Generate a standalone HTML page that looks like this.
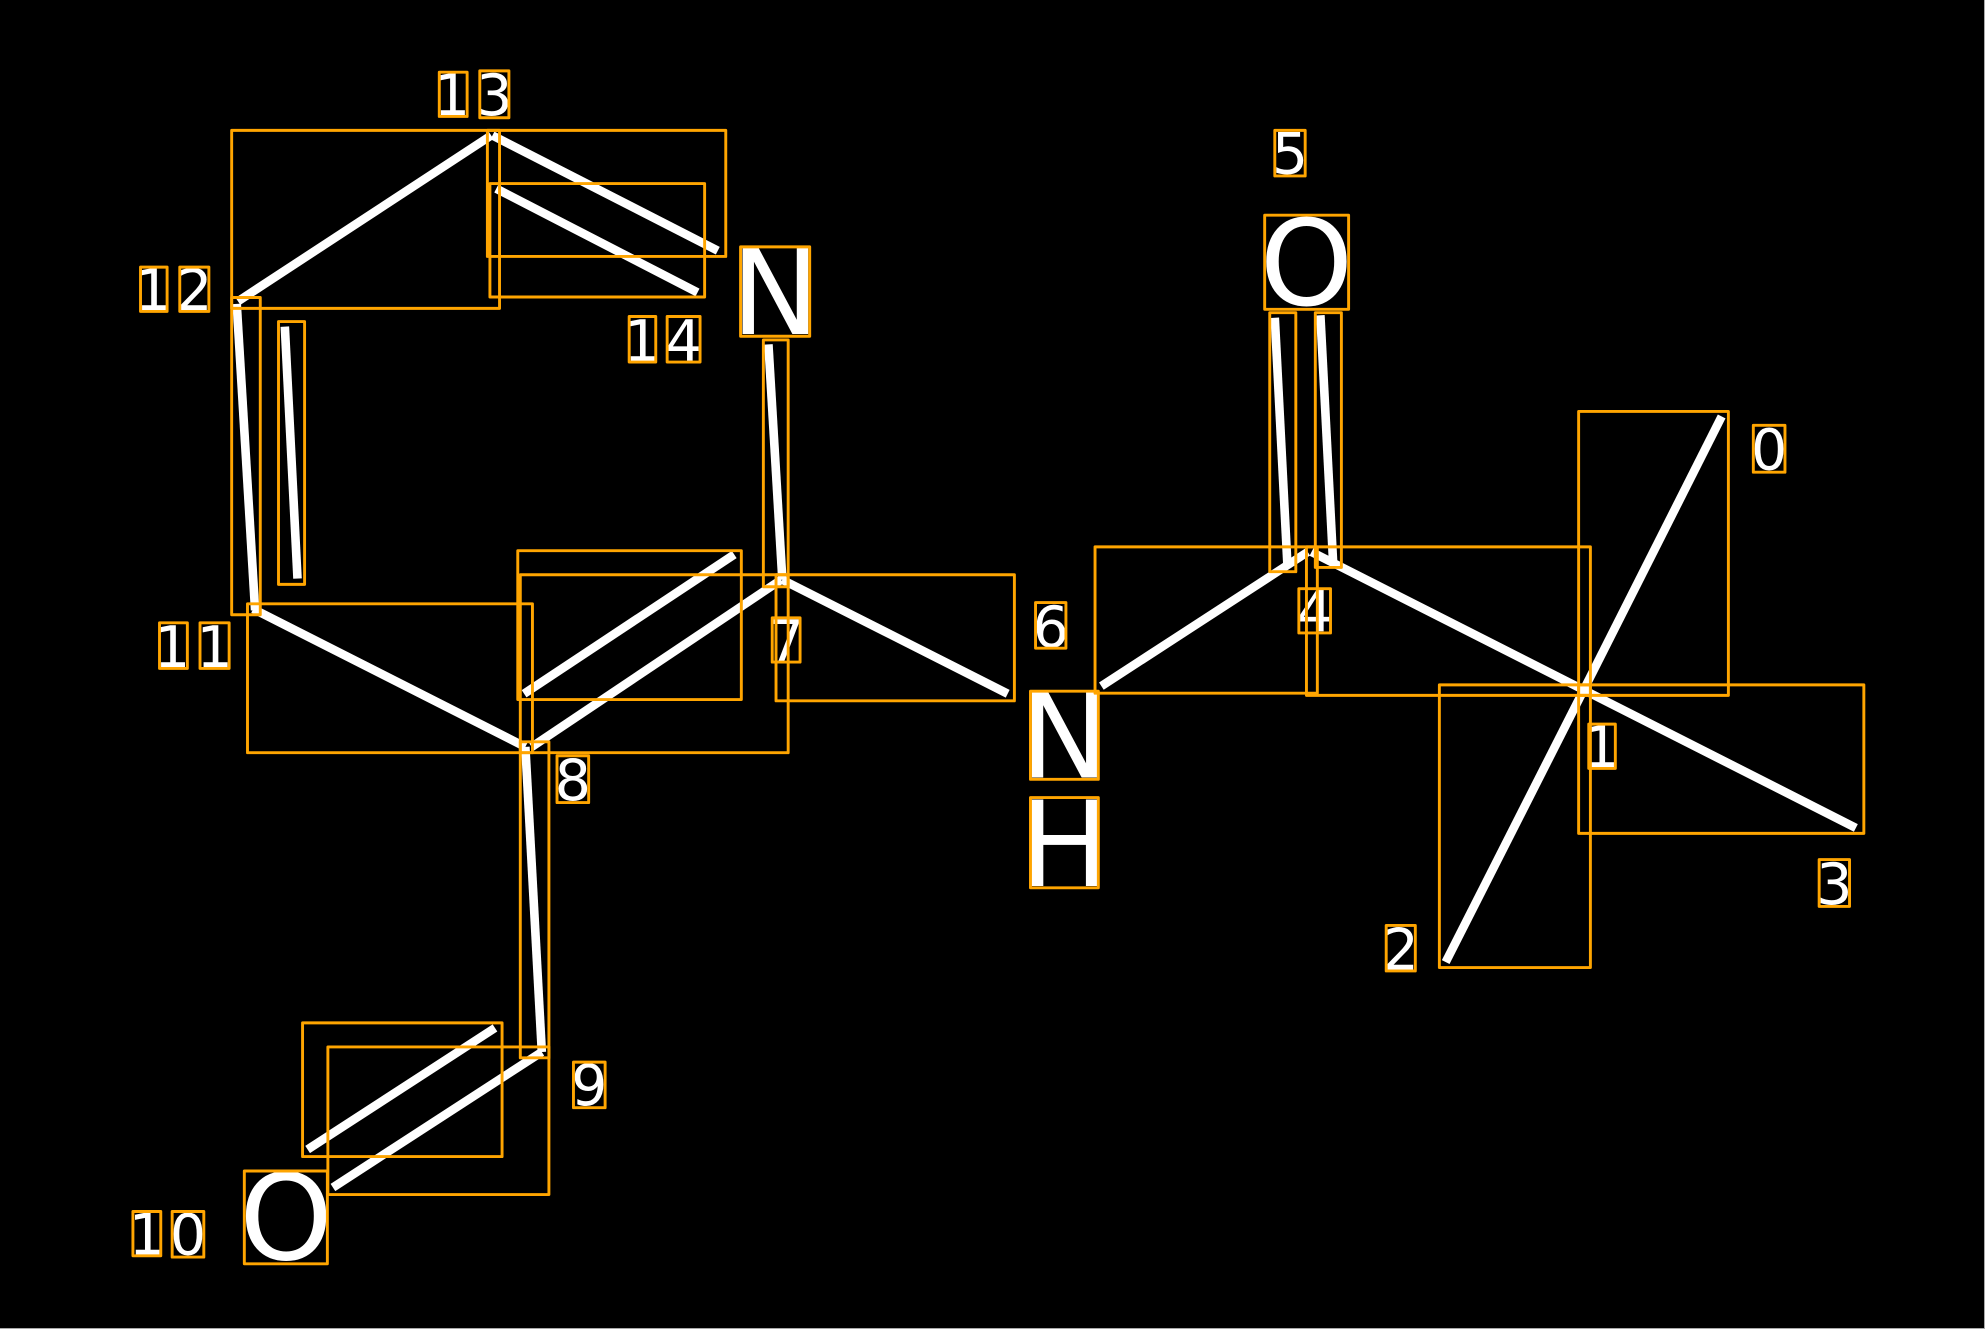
<!DOCTYPE html>
<html><head><meta charset="utf-8"><style>
html,body{margin:0;padding:0;background:#000;width:1985px;height:1329px;overflow:hidden}
svg{display:block}
text{font-family:"DejaVu Sans","Liberation Sans",sans-serif;fill:#fff;text-anchor:middle}
.d{font-size:45px}.a{font-size:94px}
</style></head><body>
<svg width="1985" height="1329" viewBox="0 0 1985 1329" xmlns="http://www.w3.org/2000/svg">
<rect width="1985" height="1329" fill="#000"/>
<path d="M0 1328.5H1985M1984.5 0V1329" stroke="#aaa" stroke-width="1"/>
<g transform="scale(1.26594)">
<g stroke="#fff" stroke-width="6.8" fill="none">
<line x1="188" y1="238" x2="388" y2="107"/>
<line x1="389" y1="107" x2="567" y2="198"/>
<line x1="392" y1="149" x2="551" y2="231"/>
<line x1="187" y1="240" x2="201.500" y2="482"/>
<line x1="225" y1="258" x2="235" y2="457"/>
<line x1="200" y1="481" x2="415" y2="590"/>
<line x1="420" y1="590" x2="617" y2="458"/>
<line x1="414" y1="548" x2="580" y2="438"/>
<line x1="607" y1="272" x2="618" y2="458"/>
<line x1="618" y1="458" x2="796" y2="548"/>
<line x1="415" y1="590" x2="428" y2="831"/>
<line x1="428" y1="831" x2="263" y2="938"/>
<line x1="391" y1="812" x2="243" y2="908"/>
<line x1="870" y1="542" x2="1033" y2="436"/>
<line x1="1007" y1="251" x2="1017" y2="447"/>
<line x1="1043" y1="249" x2="1053" y2="443"/>
<line x1="1036" y1="436" x2="1251" y2="545"/>
<line x1="1251" y1="545" x2="1360" y2="329"/>
<line x1="1251" y1="545" x2="1142" y2="760"/>
<line x1="1251" y1="545" x2="1466" y2="654"/>
</g>
<text class="a" x="612.500" y="264">N</text>
<text class="a" x="1032" y="241">O</text>
<text class="a" x="841" y="614">N</text>
<text class="a" x="841" y="700">H</text>
<text class="a" x="226" y="995">O</text>
<text class="d" x="357" y="91">1</text>
<text class="d" x="390.500" y="91">3</text>
<text class="d" x="121" y="245">1</text>
<text class="d" x="153.500" y="245">2</text>
<text class="d" x="507" y="285">1</text>
<text class="d" x="540" y="285">4</text>
<text class="d" x="136" y="527">1</text>
<text class="d" x="169.500" y="527">1</text>
<text class="d" x="1019" y="137">5</text>
<text class="d" x="1397.500" y="371">0</text>
<text class="d" x="830" y="511">6</text>
<text class="d" x="1038.500" y="499">4</text>
<text class="d" x="621" y="522">7</text>
<text class="d" x="1265" y="606">1</text>
<text class="d" x="1449" y="714">3</text>
<text class="d" x="1106.500" y="766">2</text>
<text class="d" x="452.500" y="632">8</text>
<text class="d" x="465.500" y="873">9</text>
<text class="d" x="116" y="991">1</text>
<text class="d" x="148.500" y="991">0</text>
<g stroke="#ffa500" stroke-width="2.300" fill="none" stroke-linejoin="round">
<rect x="183" y="103" width="211.600" height="140.600"/>
<rect x="385" y="103" width="188.300" height="99.600"/>
<rect x="387" y="145" width="169.600" height="89.600"/>
<rect x="183" y="235" width="22.600" height="250.600"/>
<rect x="220" y="254" width="20.600" height="207.600"/>
<rect x="195.500" y="477" width="225.100" height="117.600"/>
<rect x="411" y="454" width="211.600" height="140.600"/>
<rect x="409" y="435" width="176.600" height="117.600"/>
<rect x="603" y="268.500" width="19.600" height="195"/>
<rect x="613" y="454" width="188.300" height="99.600"/>
<rect x="411" y="586" width="22.600" height="249.600"/>
<rect x="259" y="827" width="174.600" height="116.600"/>
<rect x="239" y="808" width="157.600" height="105.600"/>
<rect x="865" y="432" width="175.600" height="115.600"/>
<rect x="1003" y="247" width="20.600" height="204.600"/>
<rect x="1039" y="247" width="20.600" height="201.200"/>
<rect x="1032" y="432" width="224.300" height="117.300"/>
<rect x="1247" y="325" width="118.300" height="224.300"/>
<rect x="1137" y="541" width="119.300" height="223.300"/>
<rect x="1247" y="541" width="225.300" height="117.300"/>
<rect x="585" y="195" width="54.600" height="70.600"/>
<rect x="999" y="170" width="66.300" height="74.300"/>
<rect x="814" y="546" width="53.600" height="69.600"/>
<rect x="814" y="630" width="53.600" height="71.300"/>
<rect x="193" y="925" width="65.600" height="73.300"/>
<rect x="347" y="57" width="22" height="35"/>
<rect x="379" y="56" width="23" height="37"/>
<rect x="111" y="211" width="21" height="35"/>
<rect x="142" y="211" width="23" height="35"/>
<rect x="497" y="250" width="21" height="36"/>
<rect x="527" y="250" width="26" height="36"/>
<rect x="126" y="492" width="22" height="36"/>
<rect x="158" y="492" width="23" height="36"/>
<rect x="1007" y="103" width="24" height="36"/>
<rect x="1385" y="336" width="25" height="37"/>
<rect x="818" y="476" width="24" height="36"/>
<rect x="1026" y="465" width="25" height="35"/>
<rect x="610" y="488" width="22" height="35"/>
<rect x="1255" y="572" width="21" height="35"/>
<rect x="1437" y="679" width="24" height="37"/>
<rect x="1095" y="731" width="23" height="36"/>
<rect x="440" y="597" width="25" height="37"/>
<rect x="453" y="839" width="25" height="36"/>
<rect x="105" y="957" width="22" height="35"/>
<rect x="136" y="957" width="25" height="36"/>
</g>
</g>
</svg>
</body></html>
